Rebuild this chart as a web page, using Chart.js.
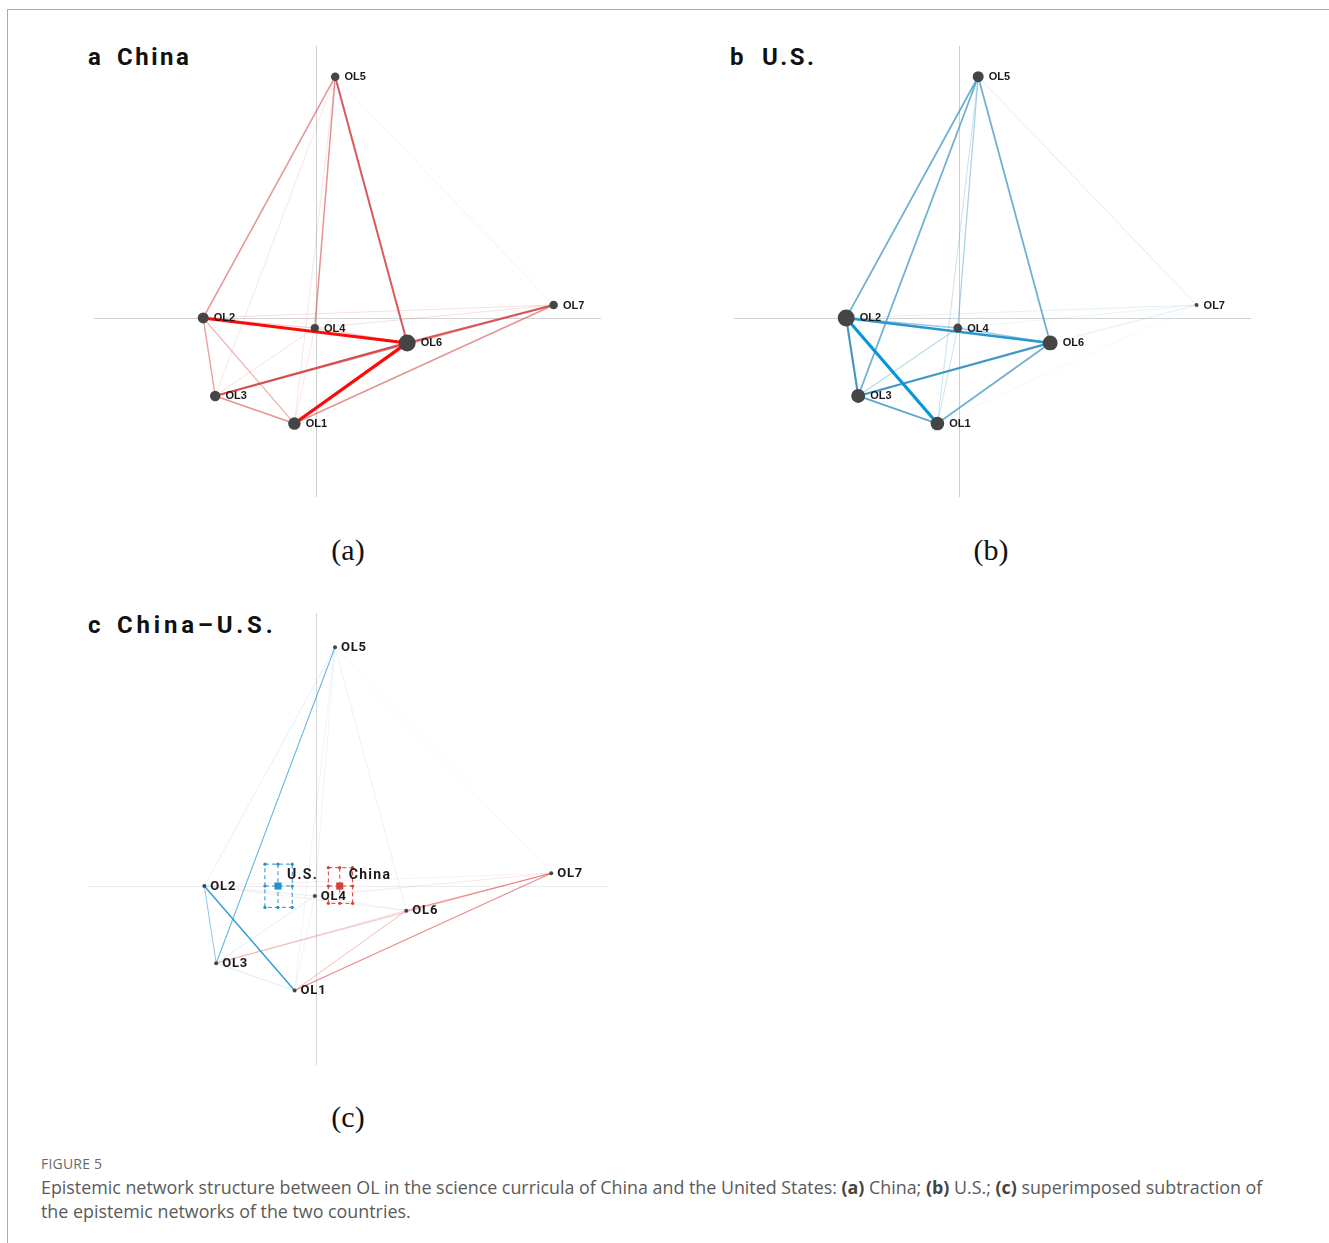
<!DOCTYPE html>
<html>
<head>
<meta charset="utf-8">
<script src="https://cdn.jsdelivr.net/npm/chart.js@4.4.1/dist/chart.umd.min.js"></script>
<style>
  html, body { margin: 0; padding: 0; background: #fff; }
  body { width: 1329px; height: 1243px; position: relative; overflow: hidden; font-family: "Open Sans", sans-serif; }
  .frame-top { position: absolute; left: 7px; top: 9px; right: 0; height: 1px; background: #a9a9a9; }
  .frame-left { position: absolute; left: 7px; top: 9px; width: 1px; bottom: 0; background: #a9a9a9; }
  canvas { position: absolute; }
  .ttl { position: absolute; font-family: Roboto, "Liberation Sans", sans-serif; font-weight: 700; font-size: 24px; letter-spacing: 2.5px; color: #111; line-height: 1; white-space: nowrap; }
  .sub { position: absolute; font-family: "Liberation Serif", "Times New Roman", serif; font-size: 30px; color: #111; line-height: 1; transform: translateX(-50%); }
  .fig { position: absolute; left: 41px; top: 1157px; font-size: 14px; line-height: 1; color: #6a6a6a; letter-spacing: 0.2px; }
  .cap { position: absolute; left: 41px; top: 1175px; width: 1240px; font-size: 17.85px; line-height: 24px; color: #5a5a5a; }
  .cap b { color: #444; }
</style>
</head>
<body>
<div class="frame-top"></div>
<div class="frame-left"></div>

<div class="ttl" style="left:88px;top:45px;">a</div>
<div class="ttl" style="left:117px;top:45px;">China</div>
<div class="ttl" style="left:730px;top:45px;">b</div>
<div class="ttl" style="left:762px;top:45px;">U.S.</div>
<div class="ttl" style="left:88px;top:613px;">c</div>
<div class="ttl" style="left:117px;top:613px;letter-spacing:3.8px;">China–U.S.</div>

<canvas id="netChina" style="left:94px;top:46px;" width="507" height="451"></canvas>
<canvas id="netUS" style="left:734px;top:46px;" width="517" height="451"></canvas>
<canvas id="netDiff" style="left:87px;top:613px;" width="521" height="452"></canvas>

<div class="sub" style="left:348px;top:535px;">(a)</div>
<div class="sub" style="left:991px;top:535px;">(b)</div>
<div class="sub" style="left:348px;top:1102px;">(c)</div>

<div class="fig">FIGURE 5</div>
<div class="cap">Epistemic network structure between OL in the science curricula of China and the United States: <b>(a)</b> China; <b>(b)</b> U.S.; <b>(c)</b> superimposed subtraction of the epistemic networks of the two countries.</div>

<script>
// Node codes and their positions in the shared ENA projection space
const nodeLabels = ['OL1', 'OL2', 'OL3', 'OL4', 'OL5', 'OL6', 'OL7'];
const nodeX = [-0.09, -0.47, -0.42, -0.005, 0.08, 0.38, 0.99];
const nodeY = [-0.44, 0.00, -0.325, -0.042, 1.005, -0.104, 0.054];

// Relative code frequency (node size) per network
const chinaNodeWeights = [0.68, 0.57, 0.53, 0.37, 0.4, 1.0, 0.4];
const usNodeWeights = [0.76, 1.0, 0.78, 0.42, 0.57, 0.85, 0.07];

// Co-occurrence connections
const edgePairs = [
  ['OL1', 'OL2'], ['OL1', 'OL3'], ['OL1', 'OL4'], ['OL1', 'OL5'], ['OL1', 'OL6'], ['OL1', 'OL7'],
  ['OL2', 'OL3'], ['OL2', 'OL4'], ['OL2', 'OL5'], ['OL2', 'OL6'], ['OL2', 'OL7'],
  ['OL3', 'OL4'], ['OL3', 'OL5'], ['OL3', 'OL6'], ['OL3', 'OL7'],
  ['OL4', 'OL5'], ['OL4', 'OL6'], ['OL4', 'OL7'],
  ['OL5', 'OL6'], ['OL5', 'OL7'],
  ['OL6', 'OL7']
];
const chinaEdgeWeights = [0.25, 0.35, 0.08, 0.08, 1.0, 0.35, 0.3, 0.15, 0.35, 0.95, 0.1, 0.1, 0.08, 0.6, 0.3, 0.35, 0.2, 0.1, 0.55, 0.05, 0.55];
const usEdgeWeights = [1.0, 0.5, 0.15, 0.15, 0.45, 0.03, 0.6, 0.3, 0.45, 0.75, 0.08, 0.2, 0.45, 0.6, 0.03, 0.25, 0.3, 0.06, 0.45, 0.1, 0.06];
// Positive = stronger in China, negative = stronger in the U.S.
const diffEdgeWeights = [-0.75, -0.15, -0.05, -0.05, 0.3, 0.5, -0.4, -0.1, -0.1, 0.08, 0.05, -0.12, -0.5, 0.2, 0.25, -0.05, -0.06, 0.1, -0.08, -0.04, 0.5];

// Group means with confidence intervals
const groupNames = ['U.S.', 'China'];
const groupMeanX = [-0.16, 0.10];
const groupMeanY = [0.0, 0.0];
const groupCiXLow = [-0.215, 0.052];
const groupCiXHigh = [-0.10, 0.154];
const groupCiYLow = [-0.09, -0.073];
const groupCiYHigh = [0.092, 0.077];

const clamp = (v, a, b) => Math.max(a, Math.min(b, v));
const mix = (c1, c2, t) => c1.map((v, i) => Math.round(v + (c2[i] - v) * t));

function strongEdge(soft, bright) {
  return (w) => {
    const t = clamp((w - 0.6) / 0.35, 0, 1);
    const c = mix(soft, bright, t);
    const a = clamp(0.05 + 1.6 * w, 0, 1);
    return { color: `rgba(${c[0]},${c[1]},${c[2]},${a})`, width: 0.6 + 2.6 * w };
  };
}
function diffEdge(w) {
  const m = Math.abs(w);
  const c = w >= 0 ? [226, 70, 70] : [25, 148, 215];
  const a = clamp(0.1 + 1.1 * m, 0, 1);
  return { color: `rgba(${c[0]},${c[1]},${c[2]},${a})`, width: 0.5 + 1.2 * m };
}

// Zero axes, confidence boxes and text labels
const netPlugin = {
  id: 'netPlugin',
  beforeDatasetsDraw(chart, args, opts) {
    const { ctx, chartArea: ca, scales: { x, y } } = chart;
    ctx.save();
    ctx.lineWidth = 1;
    ctx.strokeStyle = opts.vAxisColor;
    const x0 = Math.round(x.getPixelForValue(0)) + 0.5;
    ctx.beginPath(); ctx.moveTo(x0, ca.top); ctx.lineTo(x0, ca.bottom); ctx.stroke();
    ctx.strokeStyle = opts.hAxisColor;
    const y0 = Math.round(y.getPixelForValue(0)) + 0.5;
    ctx.beginPath(); ctx.moveTo(ca.left, y0); ctx.lineTo(ca.right, y0); ctx.stroke();

    if (opts.showGroups) {
      groupNames.forEach((g, i) => {
        const col = opts.groupColors[i];
        const xl = x.getPixelForValue(groupCiXLow[i]), xh = x.getPixelForValue(groupCiXHigh[i]);
        const yl = y.getPixelForValue(groupCiYLow[i]), yh = y.getPixelForValue(groupCiYHigh[i]);
        const xm = x.getPixelForValue(groupMeanX[i]), ym = y.getPixelForValue(groupMeanY[i]);
        ctx.strokeStyle = col;
        ctx.lineWidth = 1;
        ctx.setLineDash([4, 3]);
        ctx.beginPath();
        ctx.rect(xl, yh, xh - xl, yl - yh);
        ctx.moveTo(xm, yh); ctx.lineTo(xm, yl);
        ctx.moveTo(xl, ym); ctx.lineTo(xh, ym);
        ctx.stroke();
        ctx.setLineDash([]);
        ctx.fillStyle = col;
        [[xl, yh], [xm, yh], [xh, yh], [xl, ym], [xh, ym], [xl, yl], [xm, yl], [xh, yl]].forEach(([px, py]) => {
          ctx.beginPath(); ctx.arc(px, py, 1.6, 0, Math.PI * 2); ctx.fill();
        });
      });
    }
    ctx.restore();
  },
  afterDatasetsDraw(chart, args, opts) {
    const { ctx, scales: { x, y } } = chart;
    const meta = chart.getDatasetMeta(opts.nodeIndex);
    ctx.save();
    ctx.fillStyle = '#1a1a1a';
    ctx.font = opts.labelFont;
    ctx.letterSpacing = opts.labelSpacing;
    ctx.textBaseline = 'middle';
    ctx.textAlign = 'left';
    meta.data.forEach((pt, i) => {
      const r = opts.radii[i];
      ctx.fillText(nodeLabels[i], pt.x + r + opts.labelGap, pt.y + 0.5);
    });
    if (opts.showGroups) {
      ctx.font = 'bold 14px Roboto, "Liberation Sans", sans-serif';
      ctx.letterSpacing = '1.3px';
      groupNames.forEach((g, i) => {
        const px = x.getPixelForValue(groupMeanX[i]), py = y.getPixelForValue(groupMeanY[i]);
        ctx.fillText(g, px + 9, py - 10);
      });
    }
    ctx.restore();
  }
};

function buildNetwork(canvasId, cfg) {
  const datasets = [];
  edgePairs.forEach((p, i) => {
    const w = cfg.weights[i];
    const a = nodeLabels.indexOf(p[0]);
    const b = nodeLabels.indexOf(p[1]);
    const st = cfg.edgeStyle(w);
    datasets.push({
      type: 'scatter',
      showLine: true,
      data: [{ x: nodeX[a], y: nodeY[a] }, { x: nodeX[b], y: nodeY[b] }],
      borderColor: st.color,
      borderWidth: st.width,
      borderCapStyle: 'round',
      pointRadius: 0,
      order: 10 + Math.round((1 - Math.abs(w)) * 100)
    });
  });
  if (cfg.showGroups) {
    datasets.push({
      type: 'scatter',
      data: groupMeanX.map((gx, i) => ({ x: gx, y: groupMeanY[i] })),
      pointStyle: 'rect',
      pointRadius: 5,
      pointBackgroundColor: cfg.groupColors,
      pointBorderWidth: 0,
      order: 2
    });
  }
  const nodeIndex = datasets.length;
  datasets.push({
    type: 'scatter',
    data: nodeX.map((nx, i) => ({ x: nx, y: nodeY[i] })),
    pointRadius: cfg.radii,
    pointBackgroundColor: '#454545',
    pointBorderWidth: 0,
    order: 0
  });

  new Chart(document.getElementById(canvasId), {
    type: 'scatter',
    data: { datasets },
    options: {
      responsive: false,
      animation: false,
      events: [],
      layout: { padding: 0, autoPadding: false },
      scales: {
        x: { type: 'linear', min: cfg.xRange[0], max: cfg.xRange[1], display: false },
        y: { type: 'linear', min: cfg.yRange[0], max: cfg.yRange[1], display: false }
      },
      plugins: {
        legend: { display: false },
        tooltip: { enabled: false },
        netPlugin: {
          nodeIndex,
          radii: cfg.radii,
          labelFont: cfg.labelFont,
          labelSpacing: cfg.labelSpacing,
          labelGap: cfg.labelGap,
          vAxisColor: cfg.vAxisColor,
          hAxisColor: cfg.hAxisColor,
          showGroups: !!cfg.showGroups,
          groupColors: cfg.groupColors
        }
      }
    },
    plugins: [netPlugin]
  });
}

const nodeRadius = (w) => 1.5 + 7 * w;

buildNetwork('netChina', {
  weights: chinaEdgeWeights,
  edgeStyle: strongEdge([214, 78, 78], [255, 8, 8]),
  radii: chinaNodeWeights.map(nodeRadius),
  xRange: [-0.925, 1.1875], yRange: [-0.746, 1.133],
  labelFont: 'bold 11px "Liberation Sans", Arial, sans-serif', labelSpacing: '0px', labelGap: 5,
  vAxisColor: '#cfcfcf', hAxisColor: '#d2d2d2'
});

buildNetwork('netUS', {
  weights: usEdgeWeights,
  edgeStyle: strongEdge([66, 152, 196], [6, 150, 222]),
  radii: usNodeWeights.map(nodeRadius),
  xRange: [-0.9375, 1.2167], yRange: [-0.746, 1.133],
  labelFont: 'bold 11px "Liberation Sans", Arial, sans-serif', labelSpacing: '0px', labelGap: 5,
  vAxisColor: '#cfcfcf', hAxisColor: '#d2d2d2'
});

buildNetwork('netDiff', {
  weights: diffEdgeWeights,
  edgeStyle: diffEdge,
  radii: nodeLabels.map(() => 2),
  xRange: [-0.9638, 1.229], yRange: [-0.7534, 1.149],
  labelFont: 'bold 13px Roboto, "Liberation Sans", sans-serif', labelSpacing: '0.8px', labelGap: 4,
  vAxisColor: '#d6d6d6', hAxisColor: '#ececec',
  showGroups: true,
  groupColors: ['#2590c8', '#d4403a']
});
</script>
</body>
</html>
